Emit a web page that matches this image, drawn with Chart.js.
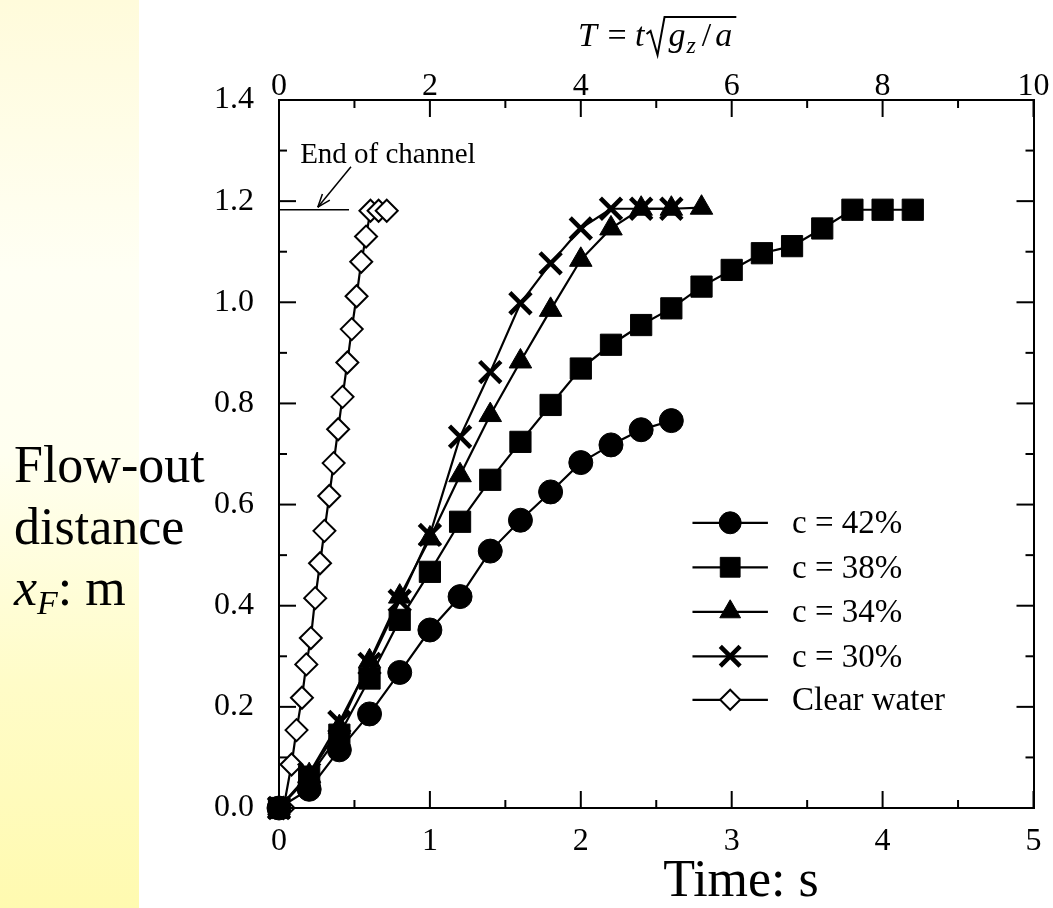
<!DOCTYPE html>
<html>
<head>
<meta charset="utf-8">
<script src="https://cdn.jsdelivr.net/npm/chart.js@4.4.1/dist/chart.umd.min.js"></script>
<style>
  html, body { margin: 0; padding: 0; background: #fff; }
  #wrap { position: relative; width: 1053px; height: 908px; overflow: hidden; }
  #strip {
    position: absolute; left: 0; top: 0; width: 139px; height: 908px;
    background: linear-gradient(to bottom, #fffbdb 0%, #fffff4 30%, #fffff0 50%, #fffcc8 75%, #fffab0 100%);
  }
  canvas { position: absolute; left: 0; top: 0; }
</style>
</head>
<body>
<div id="wrap">
  <div id="strip"></div>
  <canvas id="chart" width="1053" height="908"></canvas>
</div>
<script>
// ---------------- data ----------------
var labels = ['c = 42%', 'c = 38%', 'c = 34%', 'c = 30%', 'Clear water'];

var t42 = [0, 0.2, 0.4, 0.6, 0.8, 1.0, 1.2, 1.4, 1.6, 1.8, 2.0, 2.2, 2.4, 2.6];
var x42 = [0, 0.037, 0.115, 0.186, 0.268, 0.352, 0.418, 0.508, 0.569, 0.625, 0.683, 0.718, 0.748, 0.766];

var t38 = [0, 0.2, 0.4, 0.6, 0.8, 1.0, 1.2, 1.4, 1.6, 1.8, 2.0, 2.2, 2.4, 2.6, 2.8, 3.0, 3.2, 3.4, 3.6, 3.8, 4.0, 4.2];
var x38 = [0, 0.062, 0.145, 0.256, 0.372, 0.467, 0.566, 0.649, 0.724, 0.797, 0.869, 0.916, 0.955, 0.988, 1.031, 1.064, 1.097, 1.111, 1.146, 1.183, 1.183, 1.183];

var t34 = [0, 0.2, 0.4, 0.6, 0.8, 1.0, 1.2, 1.4, 1.6, 1.8, 2.0, 2.2, 2.4, 2.6, 2.8];
var x34 = [0, 0.065, 0.160, 0.290, 0.418, 0.533, 0.658, 0.777, 0.883, 0.985, 1.084, 1.146, 1.185, 1.185, 1.187];

var t30 = [0, 0.2, 0.4, 0.6, 0.8, 1.0, 1.2, 1.4, 1.6, 1.8, 2.0, 2.2, 2.4, 2.6];
var x30 = [0, 0.068, 0.170, 0.285, 0.410, 0.540, 0.734, 0.862, 0.998, 1.077, 1.146, 1.185, 1.185, 1.185];

var tCW = [0.03, 0.083, 0.116, 0.152, 0.181, 0.211, 0.240, 0.272, 0.301, 0.333, 0.362, 0.392, 0.421, 0.453, 0.482, 0.514, 0.545, 0.577, 0.606, 0.660, 0.714];
var xCW = [0, 0.086, 0.154, 0.218, 0.284, 0.336, 0.415, 0.484, 0.548, 0.617, 0.682, 0.749, 0.813, 0.881, 0.947, 1.012, 1.080, 1.130, 1.181, 1.181, 1.181];

var endOfChannel = 1.183;   // m

// ---------------- look ----------------
var SERIF = '"Liberation Serif", "Times New Roman", serif';
var markers = [
  { style: 'circle',   radius: 12, bw: 1, fill: '#000' },
  { style: 'rect',     radius: 15, bw: 1, fill: '#000' },
  { style: 'triangle', radius: 13, bw: 1, fill: '#000' },
  { style: 'crossRot', radius: 15, bw: 4.5, fill: '#000' },
  { style: 'rectRot',  radius: 11, bw: 2, fill: '#fff' }
];

function series(i, ts, xs) {
  var m = markers[i];
  return {
    label: labels[i],
    data: ts.map(function (t, k) { return { x: t, y: xs[k] }; }),
    showLine: true,
    tension: 0,
    borderColor: '#000',
    borderWidth: 2.2,
    pointStyle: m.style,
    pointRadius: m.radius,
    pointHoverRadius: m.radius,
    pointBorderWidth: m.bw,
    pointBackgroundColor: m.fill,
    pointBorderColor: '#000',
    clip: false
  };
}

function line(ctx, x1, y1, x2, y2) {
  ctx.beginPath(); ctx.moveTo(x1, y1); ctx.lineTo(x2, y2); ctx.stroke();
}

// inward tick marks on all four sides
var tickMarks = {
  id: 'tickMarks',
  afterDraw: function (chart) {
    var ctx = chart.ctx, a = chart.chartArea;
    var sx = chart.scales.x, sy = chart.scales.y, st = chart.scales.x2;
    ctx.save();
    ctx.strokeStyle = '#000';
    ctx.lineWidth = 2;
    for (var i = 0; i <= 10; i++) {
      var px = sx.getPixelForValue(i * 0.5), len = i % 2 === 0 ? 17 : 8;
      line(ctx, px, a.bottom, px, a.bottom - len);
      var pt = st.getPixelForValue(i), lt = i % 2 === 0 ? 17 : 8;
      line(ctx, pt, a.top, pt, a.top + lt);
    }
    for (var j = 0; j <= 14; j++) {
      var py = sy.getPixelForValue(j * 0.1), ly = j % 2 === 0 ? 17 : 8;
      line(ctx, a.left, py, a.left + ly, py);
      line(ctx, a.right, py, a.right - ly, py);
    }
    ctx.restore();
  }
};

// legend with line + marker, like the original
var legendBox = {
  id: 'legendBox',
  afterDraw: function (chart) {
    var ctx = chart.ctx, sx = chart.scales.x, sy = chart.scales.y;
    var rows = [0.564, 0.476, 0.388, 0.300, 0.214];
    var x1 = sx.getPixelForValue(2.74), x2 = sx.getPixelForValue(3.24);
    var xm = (x1 + x2) / 2, xt = sx.getPixelForValue(3.40);
    ctx.save();
    ctx.font = '33px ' + SERIF;
    ctx.textBaseline = 'middle';
    ctx.textAlign = 'left';
    for (var i = 0; i < labels.length; i++) {
      var y = sy.getPixelForValue(rows[i]);
      var m = markers[i];
      ctx.strokeStyle = '#000';
      ctx.lineWidth = 2.2;
      line(ctx, x1, y, x2, y);
      ctx.fillStyle = m.fill;
      ctx.lineWidth = m.bw;
      Chart.helpers.drawPoint(ctx, { pointStyle: m.style, radius: m.style === 'rectRot' ? 10 : m.radius - 1, borderWidth: m.bw, rotation: 0 }, xm, y);
      ctx.fillStyle = '#000';
      ctx.fillText(labels[i], xt, y + 2);
    }
    ctx.restore();
  }
};

// titles, end-of-channel mark
var texts = {
  id: 'texts',
  afterDraw: function (chart) {
    var ctx = chart.ctx, sx = chart.scales.x, sy = chart.scales.y;
    ctx.save();
    ctx.fillStyle = '#000';
    ctx.strokeStyle = '#000';

    // end of channel line and arrow
    var ye = sy.getPixelForValue(endOfChannel);
    ctx.lineWidth = 1.5;
    line(ctx, sx.getPixelForValue(0), ye, sx.getPixelForValue(0.464), ye);
    var ax = sx.getPixelForValue(0.257), ay = sy.getPixelForValue(1.188);
    var bx = sx.getPixelForValue(0.477), by = sy.getPixelForValue(1.268);
    line(ctx, bx, by, ax, ay);
    var ang = Math.atan2(by - ay, bx - ax);
    line(ctx, ax, ay, ax + 14 * Math.cos(ang - 0.35), ay + 14 * Math.sin(ang - 0.35));
    line(ctx, ax, ay, ax + 14 * Math.cos(ang + 0.35), ay + 14 * Math.sin(ang + 0.35));
    ctx.font = '29px ' + SERIF;
    ctx.textBaseline = 'alphabetic';
    ctx.fillText('End of channel', sx.getPixelForValue(0.14), sy.getPixelForValue(1.275));

    // top title: T = t sqrt(g_z / a)
    var x = 578, base = 46;
    ctx.font = 'italic 34px ' + SERIF;
    ctx.fillText('T', x, base); x += ctx.measureText('T').width + 2;
    ctx.font = '34px ' + SERIF;
    ctx.fillText(' = ', x, base); x += ctx.measureText(' = ').width;
    ctx.font = 'italic 34px ' + SERIF;
    ctx.fillText('t', x, base); x += ctx.measureText('t').width + 2;
    // radical sign
    ctx.lineWidth = 2;
    ctx.beginPath();
    ctx.moveTo(x, base - 12);
    ctx.lineTo(x + 4, base - 15);
    ctx.lineTo(x + 11, base + 9);
    ctx.lineTo(x + 18, base - 29);
    x += 22;
    ctx.font = 'italic 34px ' + SERIF;
    ctx.fillText('g', x, base); x += ctx.measureText('g').width + 1;
    ctx.font = 'italic 24px ' + SERIF;
    ctx.fillText('z', x, base + 7); x += ctx.measureText('z').width + 6;
    ctx.font = '34px ' + SERIF;
    ctx.fillText('/', x, base); x += ctx.measureText('/').width + 4;
    ctx.font = 'italic 34px ' + SERIF;
    ctx.fillText('a', x, base); x += ctx.measureText('a').width + 4;
    ctx.lineTo(x, base - 29);
    ctx.stroke();

    // x axis title
    ctx.font = '52px ' + SERIF;
    ctx.textAlign = 'center';
    ctx.fillText('Time: s', 741, 896);

    // y axis title
    ctx.textAlign = 'left';
    ctx.fillText('Flow-out', 14, 482);
    ctx.fillText('distance', 14, 544);
    var xx = 14;
    ctx.font = 'italic 52px ' + SERIF;
    ctx.fillText('x', xx, 605); xx += ctx.measureText('x').width;
    ctx.font = 'italic 34px ' + SERIF;
    ctx.fillText('F', xx, 614); xx += ctx.measureText('F').width;
    ctx.font = '52px ' + SERIF;
    ctx.fillText(': m', xx, 605);
    ctx.restore();
  }
};

var axisBorder = { display: true, color: '#000', width: 2 };
var tickFont = { family: SERIF, size: 32 };

new Chart(document.getElementById('chart'), {
  type: 'scatter',
  data: {
    datasets: [
      series(0, t42, x42),
      series(1, t38, x38),
      series(2, t34, x34),
      series(3, t30, x30),
      series(4, tCW, xCW)
    ]
  },
  options: {
    responsive: false,
    animation: false,
    devicePixelRatio: 1,
    layout: { padding: 0 },
    plugins: { legend: { display: false }, tooltip: { enabled: false } },
    scales: {
      x: {
        type: 'linear', position: 'bottom', min: 0, max: 5,
        grid: { display: false }, border: axisBorder,
        ticks: { stepSize: 1, color: '#000', font: tickFont, padding: 6, maxRotation: 0 },
        afterFit: function (s) { s.height = 100; }
      },
      x2: {
        type: 'linear', axis: 'x', position: 'top', min: 0, max: 10,
        grid: { display: false }, border: axisBorder,
        ticks: { stepSize: 2, color: '#000', font: tickFont, padding: -14, maxRotation: 0 },
        afterFit: function (s) { s.height = 100; }
      },
      y: {
        type: 'linear', position: 'left', min: 0, max: 1.4,
        grid: { display: false }, border: axisBorder,
        ticks: { stepSize: 0.2, color: '#000', font: tickFont, padding: 17,
                 callback: function (v) { return v.toFixed(1); } },
        afterFit: function (s) { s.width = 279; }
      },
      y2: {
        type: 'linear', axis: 'y', position: 'right', min: 0, max: 1.4,
        grid: { display: false }, border: axisBorder,
        ticks: { display: false },
        afterFit: function (s) { s.width = 10; }
      }
    }
  },
  plugins: [tickMarks, legendBox, texts]
});
</script>
</body>
</html>
